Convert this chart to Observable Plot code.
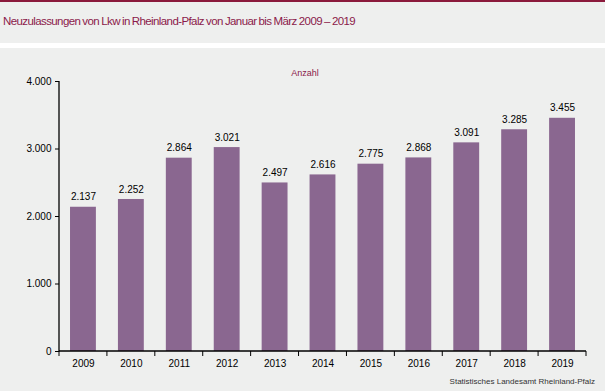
<!DOCTYPE html>
<html>
<head>
<meta charset="utf-8">
<script src="https://cdn.jsdelivr.net/npm/d3@7"></script>
<script src="https://cdn.jsdelivr.net/npm/@observablehq/plot@0.6"></script>
<style>
  html, body { margin: 0; padding: 0; background: #eeefee; }
  #wrap { position: relative; width: 605px; height: 391px; background: #eeefee; overflow: hidden; font-family: "Liberation Sans", Arial, sans-serif; }
  #topline { height: 2px; background: #8b1a3c; }
  #title { height: 41px; line-height: 38px; padding-left: 3px; font-size: 11.5px; letter-spacing: -0.6px; word-spacing: -0.5px; color: #8b1a4a; }
  #sep { height: 5px; background: #ffffff; }
  #caption { position: absolute; right: 10px; top: 377px; font-size: 8px; color: #333; letter-spacing: 0px; }
  svg { display: block; }
</style>
</head>
<body>
<div id="wrap">
  <div id="topline"></div>
  <div id="title">Neuzulassungen von Lkw in Rheinland-Pfalz von Januar bis März 2009 – 2019</div>
  <div id="sep"></div>
  <div id="chart"></div>
  <div id="caption">Statistisches Landesamt Rheinland-Pfalz</div>
</div>
<script>
const years = ["2009", "2010", "2011", "2012", "2013", "2014", "2015", "2016", "2017", "2018", "2019"];
const values = [2137, 2252, 2864, 3021, 2497, 2616, 2775, 2868, 3091, 3285, 3455];
const yTicks = [0, 1000, 2000, 3000, 4000];
const unitLabel = "Anzahl";

const data = years.map((year, i) => ({year, value: values[i]}));
const fmt = d => d3.format(",")(d).replace(/,/g, ".");
const padInner = 0.46;

function axisLinesAndTicks(index, scales, values, dim) {
  const x = scales.x, y = scales.y;
  const bw = x.bandwidth();
  const step = x.step ? x.step() : bw / (1 - padInner);
  const gap = (step - bw) / 2;
  const y0 = y(0), yTop = y(d3.max(yTicks));
  const g = d3.create("svg:g").attr("stroke", "#000").attr("fill", "none");
  const xs = years.map(d => x(d) - gap);
  xs.push(x(years[years.length - 1]) + bw + gap);
  const left = xs[0], right = xs[xs.length - 1];
  g.append("line").attr("x1", left).attr("x2", left).attr("y1", yTop).attr("y2", y0 + 0.5).attr("stroke-width", 1.3);
  g.append("line").attr("x1", left).attr("x2", right).attr("y1", y0).attr("y2", y0).attr("stroke-width", 1.3);
  for (const xv of xs) {
    g.append("line").attr("x1", xv).attr("x2", xv).attr("y1", y0).attr("y2", y0 + 5).attr("stroke-width", 1);
  }
  return g.node();
}

const chart = Plot.plot({
  width: 605,
  height: 343,
  marginTop: 33,
  marginBottom: 40,
  marginLeft: 59,
  marginRight: 19,
  style: {background: "transparent", fontFamily: "'Liberation Sans', Arial, sans-serif", fontSize: "10px", color: "#000"},
  x: {domain: years, paddingInner: padInner, paddingOuter: padInner / 2, round: false, label: null},
  y: {domain: [0, 4000], ticks: yTicks, label: null},
  marks: [
    Plot.barY(data, {x: "year", y: "value", fill: "#8a6790"}),
    Plot.text(data, {x: "year", y: "value", text: d => fmt(d.value), dy: -10, fontSize: 10, fill: "#000"}),
    Plot.axisY({ticks: yTicks, tickFormat: fmt, tickSize: 4, tickPadding: 4, fontSize: 10, stroke: "#000", label: null}),
    Plot.axisX({tickSize: 0, tickPadding: 8, fontSize: 10, label: null}),
    Plot.text([unitLabel], {frameAnchor: "top", dx: -18, dy: -12, fontSize: 9, fill: "#8b1a4a", text: d => d}),
    axisLinesAndTicks
  ]
});
document.getElementById("chart").appendChild(chart);
</script>
</body>
</html>
